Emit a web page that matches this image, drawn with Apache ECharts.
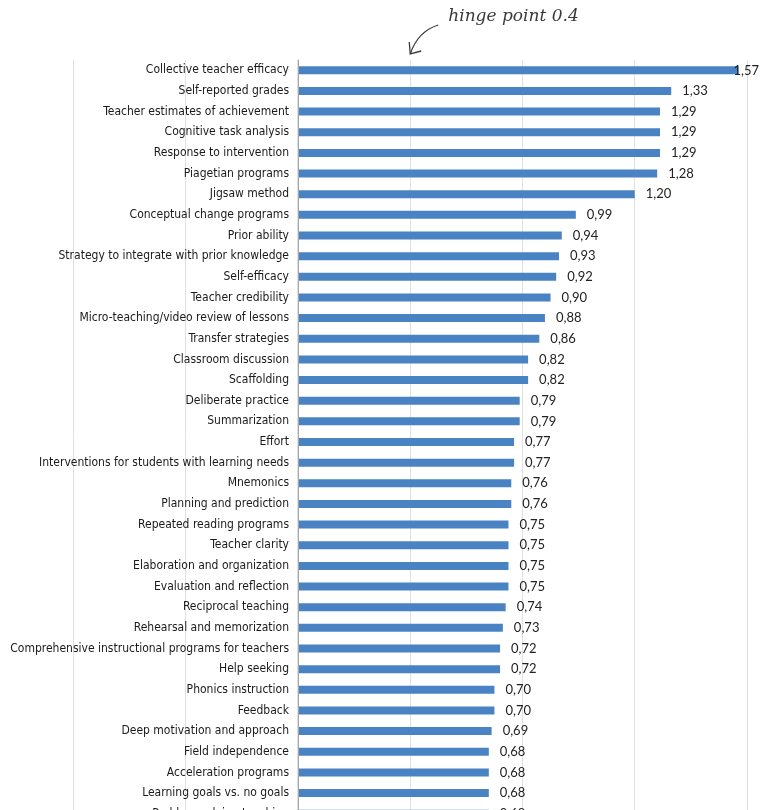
<!DOCTYPE html>
<html lang="en">
  <head>
    <meta charset="UTF-8" />
    <title>Effect sizes</title>
    <script src="https://cdn.jsdelivr.net/npm/echarts@6/dist/echarts.min.js"></script>
    <style>
      body {
        margin: 0;
        padding: 0;
        background: #fff;
      }
      #main {
        width: 768px;
        height: 810px;
      }
    </style>
  </head>
  <body>
    <div id="main"></div>
    <script>
      // Influences, top to bottom
      const influences = [
        "Collective teacher efficacy",
        "Self-reported grades",
        "Teacher estimates of achievement",
        "Cognitive task analysis",
        "Response to intervention",
        "Piagetian programs",
        "Jigsaw method",
        "Conceptual change programs",
        "Prior ability",
        "Strategy to integrate with prior knowledge",
        "Self-efficacy",
        "Teacher credibility",
        "Micro-teaching/video review of lessons",
        "Transfer strategies",
        "Classroom discussion",
        "Scaffolding",
        "Deliberate practice",
        "Summarization",
        "Effort",
        "Interventions for students with learning needs",
        "Mnemonics",
        "Planning and prediction",
        "Repeated reading programs",
        "Teacher clarity",
        "Elaboration and organization",
        "Evaluation and reflection",
        "Reciprocal teaching",
        "Rehearsal and memorization",
        "Comprehensive instructional programs for teachers",
        "Help seeking",
        "Phonics instruction",
        "Feedback",
        "Deep motivation and approach",
        "Field independence",
        "Acceleration programs",
        "Learning goals vs. no goals",
        "Problem-solving teaching",
      ];
      const effectSizes = [
        1.57, 1.33, 1.29, 1.29, 1.29, 1.28, 1.2, 0.99, 0.94, 0.93, 0.92, 0.9,
        0.88, 0.86, 0.82, 0.82, 0.79, 0.79, 0.77, 0.77, 0.76, 0.76, 0.75, 0.75,
        0.75, 0.75, 0.74, 0.73, 0.72, 0.72, 0.7, 0.7, 0.69, 0.68, 0.68, 0.68,
        0.68,
      ];
      const hingePoint = 0.4;
      const annotationText = "hinge point 0.4";

      const myChart = echarts.init(document.getElementById("main"));

      const barData = effectSizes.map((v, i) =>
        i === 0 ? { value: v, label: { distance: -5 } } : v
      );

      const option = {
        animation: false,
        // grid 0: bars from 0; grid 1: full plot area (-0.8 .. 1.6) for gridlines only
        grid: [
          { left: 298, right: 21, top: 60, bottom: -14, outerBoundsMode: "none" },
          { left: 73, right: 21, top: 60, bottom: -14, outerBoundsMode: "none" },
        ],
        xAxis: [
          {
            type: "value",
            min: 0,
            max: 1.6,
            interval: 0.4,
            axisLabel: { show: false },
            axisLine: { show: false },
            axisTick: { show: false },
            splitLine: { show: false },
          },
          {
            type: "value",
            gridIndex: 1,
            min: -0.8,
            max: 1.6,
            interval: 0.4,
            axisLabel: { show: false },
            axisLine: { show: false },
            axisTick: { show: false },
            splitLine: { lineStyle: { color: "#e0e0e0", width: 1 } },
          },
        ],
        yAxis: [
          {
            type: "category",
            data: influences,
            inverse: true,
            z: 3,
            axisLine: { lineStyle: { color: "#a6a6a6" } },
            axisTick: { length: 4, lineStyle: { color: "#a6a6a6" } },
            axisLabel: {
              margin: 9,
              fontFamily: "'DejaVu Sans Condensed', 'Liberation Sans Narrow', 'Liberation Sans', sans-serif",
              fontSize: 12,
              color: "#1a1a1a",
            },
          },
          {
            type: "category",
            gridIndex: 1,
            data: influences,
            inverse: true,
            show: false,
          },
        ],
        series: [
          {
            type: "bar",
            data: barData,
            barWidth: 8,
            itemStyle: { color: "#4a83c3" },
            label: {
              show: true,
              position: "right",
              distance: 11,
              fontFamily: "Lato, 'Open Sans', sans-serif",
              fontSize: 13,
              color: "#222",
              formatter: (p) => p.value.toFixed(2).replace(".", ","),
            },
          },
        ],
      };

      myChart.setOption(option);

      // hand-written style note pointing at the hinge point
      const tipX = myChart.convertToPixel({ xAxisIndex: 0 }, hingePoint);
      myChart.setOption({
        graphic: [
          {
            type: "text",
            left: tipX + 38,
            top: 8,
            style: {
              text: annotationText,
              font: "italic 17px 'DejaVu Serif', serif",
              fill: "#3a3a3a",
            },
          },
          {
            type: "bezierCurve",
            shape: {
              x1: tipX + 28,
              y1: 25,
              x2: tipX,
              y2: 54,
              cpx1: tipX + 12,
              cpy1: 30,
              cpx2: tipX + 4,
              cpy2: 42,
            },
            style: { stroke: "#3a3a3a", lineWidth: 1.3, fill: null },
          },
          {
            type: "polyline",
            shape: {
              points: [
                [tipX - 1, 42],
                [tipX, 54],
                [tipX + 11, 51],
              ],
            },
            style: { stroke: "#3a3a3a", lineWidth: 1.3, fill: null },
          },
        ],
      });
    </script>
  </body>
</html>
